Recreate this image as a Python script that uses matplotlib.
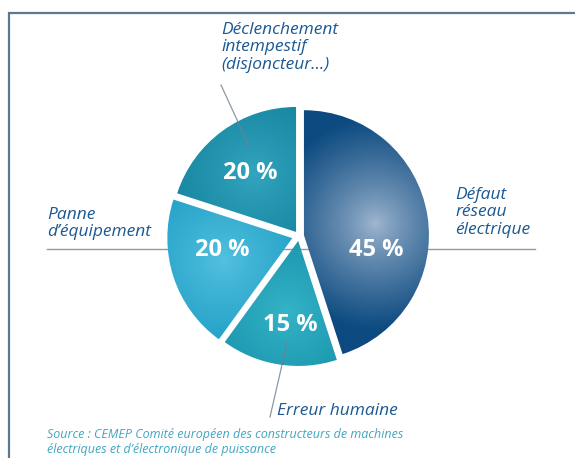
import matplotlib.pyplot as plt
import numpy as np
from matplotlib.colors import to_rgb

# slices, clockwise from 12 o'clock
causes = ["Défaut réseau électrique", "Erreur humaine", "Panne d’équipement",
          "Déclenchement intempestif (disjoncteur…)"]
shares = [45, 15, 20, 20]
pct_labels = ["45 %", "15 %", "20 %", "20 %"]
source = ("Source : CEMEP Comité européen des constructeurs de machines\n"
          "électriques et d’électronique de puissance")

# styling
inner_colors = ["#a3b9d1", "#36b5c8", "#55c2e0", "#34a7c0"]
outer_colors = ["#0c4a80", "#148fa8", "#1a9bc2", "#117f9b"]
explode = [5, 5, 7, 5]  # pie() takes these in data units (pixels here)
pct_nudge = [(-9, -28), (5, -3), (8, 14), (3, -8)]
W, H = 575, 458
label_color = "#1c5892"


def py(y):
    # pixel row -> data y
    return H - y


fig = plt.figure(figsize=(W / 100, H / 100), dpi=100)
ax = fig.add_axes([0, 0, 1, 1])

# frame and guide line
ax.plot([9, 9, W], [py(H), py(13), py(13)], color="#5f7892", lw=1.6, zorder=1,
        solid_joinstyle="miter")
ax.plot([47, 535], [py(249), py(249)], color="#8e9aa6", lw=1.0, zorder=1)

wedges, _, autotexts = ax.pie(
    shares, startangle=90, counterclock=False, center=(299, py(236)), radius=125,
    explode=explode, autopct="%d %%", pctdistance=0.66,
    wedgeprops=dict(linewidth=0), textprops=dict(color="white"),
)

for w, c_in, c_out in zip(wedges, inner_colors, outer_colors):
    w.set_facecolor("none")
    w.set_zorder(2)
    cx, cy = w.center
    r = w.r
    mid = np.deg2rad((w.theta1 + w.theta2) / 2)
    fx, fy = cx + 0.58 * r * np.cos(mid), cy + 0.58 * r * np.sin(mid)
    xs = np.linspace(cx - r, cx + r, 300)
    ys = np.linspace(cy - r, cy + r, 300)
    gx, gy = np.meshgrid(xs, ys)
    t = np.clip(np.hypot(gx - fx, gy - fy) / (0.85 * r), 0, 1) ** 0.8
    a, b = np.array(to_rgb(c_in)), np.array(to_rgb(c_out))
    img = a[None, None, :] * (1 - t[..., None]) + b[None, None, :] * t[..., None]
    im = ax.imshow(img, extent=(cx - r, cx + r, cy - r, cy + r), origin="lower",
                   zorder=2, interpolation="bilinear")
    im.set_clip_path(w)

for txt, lab, (dx, dy) in zip(autotexts, pct_labels, pct_nudge):
    x, y = txt.get_position()
    txt.set_position((x + dx, y + dy))
    txt.set_text(lab)
    txt.set_fontsize(17)
    txt.set_fontweight("bold")
    txt.set_family("Open Sans")
    txt.set_zorder(5)

# leader lines
ax.plot([221, 250], [py(85), py(148)], color="#6f808f", lw=0.9, alpha=0.8, zorder=4)
ax.plot([287, 270], [py(343), py(417)], color="#6f808f", lw=0.9, alpha=0.8, zorder=4)

lab_kw = dict(color=label_color, fontsize=12.5, style="italic", family="Open Sans",
              linespacing=1.12, zorder=6)
ax.text(221, py(22), "Déclenchement\nintempestif\n(disjoncteur…)", va="top", ha="left", **lab_kw)
ax.text(47, py(207), "Panne\nd’équipement", va="top", ha="left", **lab_kw)
ax.text(455, py(187), "Défaut\nréseau\nélectrique", va="top", ha="left", **lab_kw)
ax.text(277, py(403), "Erreur humaine", va="top", ha="left", **lab_kw)

ax.text(47, py(428), source, va="top", ha="left", color="#3fa7c1", fontsize=9,
        style="italic", family="Open Sans", linespacing=1.15)

ax.set_xlim(0, W)
ax.set_ylim(0, H)
ax.set_aspect("equal")
ax.axis("off")

fig.savefig("out.png", dpi=100)
